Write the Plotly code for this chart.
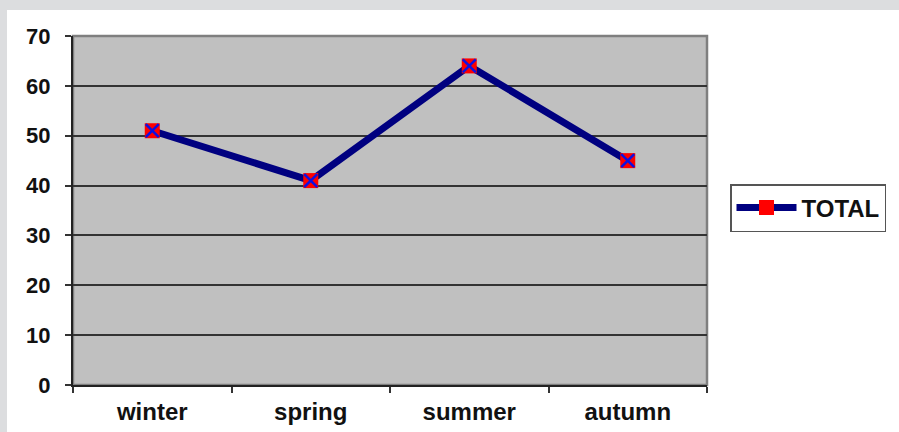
import plotly.graph_objects as go

seasons = ["winter", "spring", "summer", "autumn"]
total = [51, 41, 64, 45]
y_ticks = [0, 10, 20, 30, 40, 50, 60, 70]

W, H = 899, 432
ML, MR, MT, MB = 73, 192, 36, 47
PW, PH = W - ML - MR, H - MT - MB

FAMILY = "Arial, Liberation Sans, sans-serif"
y_font = dict(family=FAMILY, size=22, color="#111111")
x_font = dict(family=FAMILY, size=24, color="#111111")

fig = go.Figure()

# main series: navy line with red square markers
fig.add_trace(go.Scatter(
    x=seasons, y=total, mode="lines+markers", name="<b>TOTAL</b>",
    line=dict(color="#000080", width=7),
    marker=dict(symbol="square", size=15, color="#FF0000", line=dict(width=0)),
))
# blue cross drawn on top of each square
fig.add_trace(go.Scatter(
    x=seasons, y=total, mode="markers", showlegend=False, hoverinfo="skip",
    marker=dict(symbol="x-thin", size=13, line=dict(color="#1010E0", width=2.5)),
))

def px_x(p):
    return (p - ML) / PW

def px_y(p):
    return (H - MB - p) / PH

shapes = [
    # plot area frame (top/right sides in grey)
    dict(type="rect", xref="paper", yref="paper", x0=0, x1=1, y0=0, y1=1,
         line=dict(color="#7F7F7F", width=2.5), layer="below"),
    # outer grey frame bands
    dict(type="rect", xref="paper", yref="paper", x0=px_x(0), x1=px_x(W),
         y0=px_y(10), y1=px_y(0), fillcolor="#DCDDDF", line=dict(width=0)),
    dict(type="rect", xref="paper", yref="paper", x0=px_x(0), x1=px_x(7),
         y0=px_y(H), y1=px_y(0), fillcolor="#DCDDDF", line=dict(width=0)),
]

fig.update_layout(
    width=W, height=H,
    margin=dict(l=ML, r=MR, t=MT, b=MB, pad=0, autoexpand=False),
    paper_bgcolor="white", plot_bgcolor="#C0C0C0",
    font=y_font,
    shapes=shapes,
    showlegend=True,
    legend=dict(
        x=px_x(730), y=px_y(208), xanchor="left", yanchor="middle",
        bgcolor="white", bordercolor="#555555", borderwidth=1.5,
        font=dict(family=FAMILY, size=24, color="#111111"),
        itemwidth=60,
    ),
    xaxis=dict(
        type="category", range=[-0.5, 3.5], tickson="boundaries",
        ticks="outside", ticklen=6, tickwidth=1.5, tickcolor="#333333",
        showline=True, linecolor="#222222", linewidth=2,
        showgrid=False, zeroline=False, tickfont=x_font, automargin=False,
        tickvals=seasons, ticktext=[f"<b>{s}</b>" for s in seasons],
        ticklabelstandoff=4,
    ),
    yaxis=dict(
        range=[0, 70], tickvals=y_ticks, ticktext=[f"<b>{v}</b>" for v in y_ticks],
        ticks="outside", ticklen=6, tickwidth=1.5, tickcolor="#333333",
        showline=True, linecolor="#222222", linewidth=2,
        showgrid=True, gridcolor="#333333", gridwidth=1.8, zeroline=False,
        tickfont=y_font, ticklabelstandoff=10, automargin=False,
    ),
)

fig.write_html("out.html")
